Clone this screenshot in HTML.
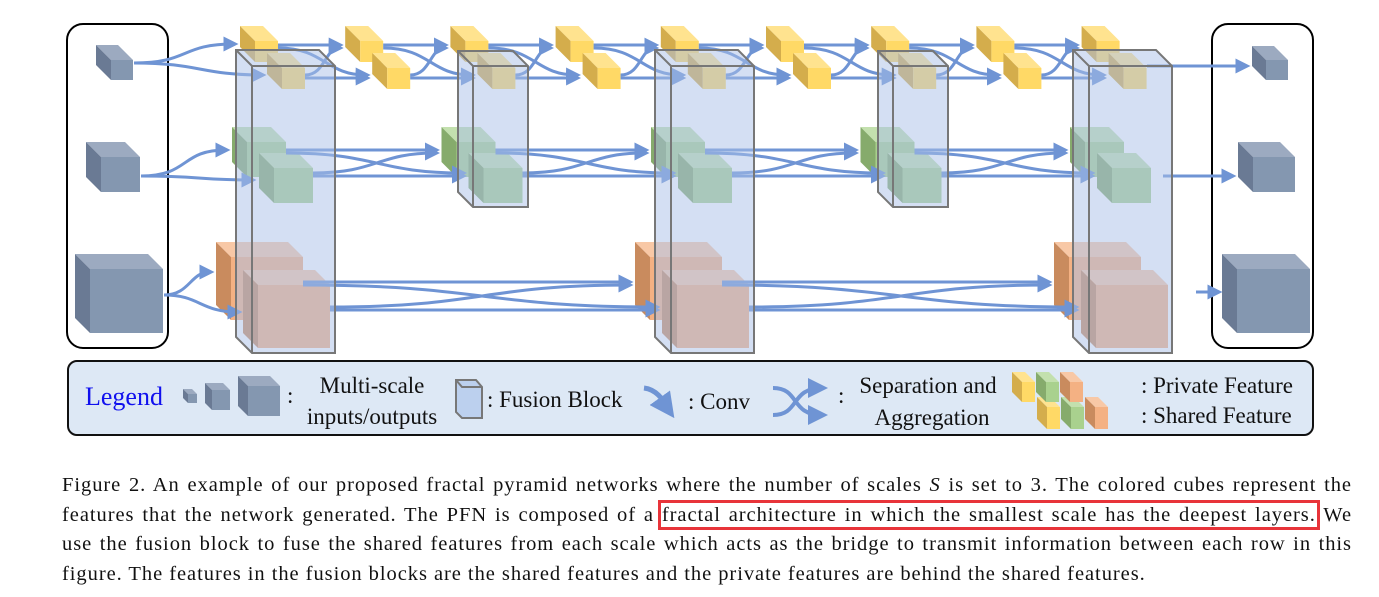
<!DOCTYPE html>
<html><head><meta charset="utf-8"><style>
body{margin:0;background:#fff;width:1379px;height:597px;overflow:hidden;position:relative;font-family:"Liberation Serif",serif}
.cap{position:absolute;left:62px;top:471px;width:1290px;font-size:20.5px;line-height:29.5px;color:#111;letter-spacing:0.95px}
.cap div{text-align:justify;text-align-last:justify;white-space:nowrap}
.cap div.last{text-align-last:left}
.cap span{outline:3px solid #e8343a;outline-offset:1px}
</style></head><body>
<svg id="s" width="1379" height="460" style="position:absolute;left:0;top:0">
<defs><marker id="ah" markerWidth="5" markerHeight="5" refX="3.5" refY="2.5" orient="auto" markerUnits="strokeWidth"><path d="M0,0L5,2.5L0,5z" fill="#6f94d4"/></marker></defs>
<rect x="67" y="24" width="101" height="324" rx="16" fill="none" stroke="#000" stroke-width="2"/>
<rect x="1212" y="24" width="101" height="324" rx="16" fill="none" stroke="#000" stroke-width="2"/>
<g id="cubes"></g><g id="arr" fill="none" stroke="#6f94d4" stroke-width="3"></g><g id="fb"></g>
<rect x="68" y="361" width="1245" height="74" rx="9" fill="#dde8f5" stroke="#111" stroke-width="2"/>
<g font-family="Liberation Serif,serif" font-size="23" fill="#111">
<text x="85" y="405" fill="#1010ee" font-size="26">Legend</text>
<text x="287" y="403">:</text>
<text x="372" y="393" text-anchor="middle">Multi-scale</text>
<text x="372" y="424" text-anchor="middle">inputs/outputs</text>
<text x="487" y="407">: Fusion Block</text>
<text x="688" y="409">: Conv</text>
<text x="838" y="403">:</text>
<text x="928" y="393" text-anchor="middle">Separation and</text>
<text x="932" y="425" text-anchor="middle">Aggregation</text>
<text x="1141" y="393">: Private Feature</text>
<text x="1141" y="423">: Shared Feature</text>
</g>
<g id="leg"></g>
</svg>
<div class="cap">
<div>Figure 2. An example of our proposed fractal pyramid networks where the number of scales <i>S</i> is set to 3. The colored cubes represent the</div>
<div>features that the network generated. The PFN is composed of a <span>fractal architecture in which the smallest scale has the deepest layers.</span> We</div>
<div>use the fusion block to fuse the shared features from each scale which acts as the bridge to transmit information between each row in this</div>
<div class="last">figure. The features in the fusion blocks are the shared features and the private features are behind the shared features.</div>
</div>
<script>
const NS="http://www.w3.org/2000/svg";
function el(p,t,a){const e=document.createElementNS(NS,t);for(const k in a)e.setAttribute(k,a[k]);p.appendChild(e);return e;}
const C=document.getElementById('cubes'),A=document.getElementById('arr'),F=document.getElementById('fb'),L=document.getElementById('leg');
const pal={y:['#ffd966','#ffe38f','#d4ad4c'],g:['#a9d18e','#c3e0ae','#86ab6c'],o:['#f4b183','#f8c8a6','#c98b5e'],b:['#8497b0','#9caac0','#6a7a94']};
function cube(p,x,y,w,h,d,c){const q=pal[c];
el(p,'polygon',{points:`${x-d},${y-d} ${x+w-d},${y-d} ${x+w},${y} ${x},${y}`,fill:q[1]});
el(p,'polygon',{points:`${x-d},${y-d} ${x},${y} ${x},${y+h} ${x-d},${y+h-d}`,fill:q[2]});
el(p,'rect',{x:x,y:y,width:w,height:h,fill:q[0]});}
cube(C,111,60,22,20,15,'b');cube(C,101,157,39,35,15,'b');cube(C,90,269,73,64,15,'b');
cube(C,1266,60,22,20,14,'b');cube(C,1253,157,42,35,15,'b');cube(C,1237,269,73,64,15,'b');
for(let k=0;k<9;k++){const x=240+105.2*k;cube(C,x+15,41,23,21,15,'y');cube(C,x+42,68,23,21,15,'y');}
for(let k=0;k<5;k++){const x=232+209.5*k;cube(C,x+15,142,39,35,15,'g');cube(C,x+42,168,39,35,15,'g');}
for(let k=0;k<3;k++){const x=216+419*k;cube(C,x+15,257,72,63,15,'o');cube(C,x+42,285,72,63,15,'o');}
function ar(d,m=true){const a={d:d};if(m)a['marker-end']='url(#ah)';el(A,'path',a);}
function rows(x0,sp,n,uw,dx,yu,yl){for(let k=0;k<n-1;k++){const x=x0+sp*k,ux=x+15+uw,lx=x+42+uw,nx=x+sp,nlx=x+sp+27;
ar(`M${lx},${yl} L${nlx-6},${yl}`);ar(`M${ux},${yu} L${nx-6},${yu}`);
ar(`M${ux},${yu+3} C${(ux+nlx)/2},${yu+3} ${(ux+nlx)/2},${yl-3} ${nlx-6},${yl-3}`);
ar(`M${lx},${yl-3} C${(lx+nx)/2},${yl-3} ${(lx+nx)/2},${yu+3} ${nx-6},${yu+3}`);}}
rows(240,105.2,9,23,0,45,78);rows(232,209.5,5,39,0,150,176);rows(216,419,3,72,0,282,310);
ar('M134,63 C190,63 180,44 234,44');ar('M134,63 C200,63 200,75 262,75');
ar('M141,176 C190,176 180,150 226,150');ar('M141,176 C200,176 200,180 252,180');
ar('M164,295 C190,295 190,272 210,272');ar('M164,295 C200,295 200,312 238,312');
ar('M1147,66 L1246,66');ar('M1163,176 L1232,176');ar('M1196,292 L1218,292');
function fb(x,y,w,h,d){el(F,'polygon',{points:`${x-d},${y-d} ${x+w-d},${y-d} ${x+w},${y} ${x+w},${y+h} ${x},${y+h} ${x-d},${y+h-d}`,fill:'rgba(170,192,232,0.5)',stroke:'#777','stroke-width':2});
el(F,'polyline',{points:`${x-d},${y-d} ${x},${y} ${x+w},${y}`,fill:'none',stroke:'#777','stroke-width':2});
el(F,'line',{x1:x,y1:y,x2:x,y2:y+h,stroke:'#777','stroke-width':2});}
fb(252,66,83,287,16);fb(671,66,83,287,16);fb(1089,66,83,287,16);
fb(473,66,55,141,15);fb(893,66,55,141,15);
cube(L,188,394,9,9,5,'b');cube(L,212,390,18,20,7,'b');cube(L,248,386,32,30,10,'b');
el(L,'polygon',{points:'456,380 476,380 482,387 482,418 462,418 456,412',fill:'#bcd0ee',stroke:'#777','stroke-width':2});
el(L,'polyline',{points:'456,380 462,387 482,387',fill:'none',stroke:'#777','stroke-width':2});
el(L,'path',{d:'M644,388 C660,390 665,405 670,412',stroke:'#6f94d4','stroke-width':5,fill:'none','marker-end':'url(#ah)'});
el(L,'path',{d:'M773,388 C800,388 790,415 822,415',stroke:'#6f94d4','stroke-width':4,fill:'none','marker-end':'url(#ah)'});
el(L,'path',{d:'M773,415 C800,415 790,388 822,388',stroke:'#6f94d4','stroke-width':4,fill:'none','marker-end':'url(#ah)'});
for(let i=0;i<3;i++){const c=['y','g','o'][i];cube(L,1022+i*24,382,13,20,10,c);cube(L,1047+i*24,407,13,22,10,c);}
</script>
</body></html>
